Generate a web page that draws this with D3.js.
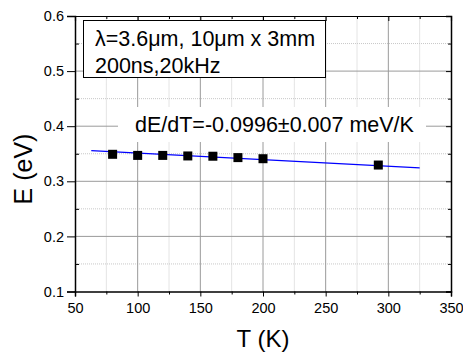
<!DOCTYPE html>
<html>
<head>
<meta charset="utf-8">
<script src="https://cdn.jsdelivr.net/npm/d3@7"></script>
<style>
  body { margin: 0; background: #fff; }
  svg { display: block; font-family: "Liberation Sans", Arial, sans-serif; }
</style>
</head>
<body>
<div id="chart"></div>
<script>
// measured points
var temps = [80, 100, 120, 140, 160, 180, 200, 292];
var energies = [0.349, 0.347, 0.347, 0.346, 0.3455, 0.343, 0.341, 0.3295];

// linear fit line end points
var fitT = [63, 325];
var fitE = [0.3555, 0.3242];

var xTicks = [50, 100, 150, 200, 250, 300, 350];
var yTicks = [0.1, 0.2, 0.3, 0.4, 0.5, 0.6];
var xMinor = [75, 125, 175, 225, 275, 325];
var yMinor = [0.15, 0.25, 0.35, 0.45, 0.55];

var legendLines = ["\u03bb=3.6\u03bcm, 10\u03bcm x 3mm", "200ns,20kHz"];
var slopeText = "dE/dT=-0.0996\u00b10.007 meV/K";

function drawChart() {
    var width = 463;
    var height = 353;
    var margin = ({ top: 16, right: 12, bottom: 61.5, left: 75 });

    var x = d3.scaleLinear()
        .domain([50, 350])
        .range([margin.left, width - margin.right]);

    var y = d3.scaleLinear()
        .domain([0.1, 0.6])
        .range([height - margin.bottom, margin.top]);

    const svg = d3.select("#chart").append("svg")
        .attr("width", width)
        .attr("height", height);

    // minor grid (dotted)
    svg.append("g")
        .attr("stroke", "#c8c8c8")
        .attr("stroke-dasharray", "1,1")
        .call(g => g.selectAll("line.vx")
            .data(xMinor)
            .join("line")
            .attr("class", "vx")
            .attr("x1", d => x(d)).attr("x2", d => x(d))
            .attr("y1", y(0.1)).attr("y2", y(0.6)))
        .call(g => g.selectAll("line.hy")
            .data(yMinor)
            .join("line")
            .attr("class", "hy")
            .attr("x1", x(50)).attr("x2", x(350))
            .attr("y1", d => y(d)).attr("y2", d => y(d)));

    // major grid
    svg.append("g")
        .attr("stroke", "#9a9a9a")
        .call(g => g.selectAll("line.vx")
            .data(xTicks.slice(1, -1))
            .join("line")
            .attr("class", "vx")
            .attr("x1", d => x(d)).attr("x2", d => x(d))
            .attr("y1", y(0.1)).attr("y2", y(0.6)))
        .call(g => g.selectAll("line.hy")
            .data(yTicks.slice(1, -1))
            .join("line")
            .attr("class", "hy")
            .attr("x1", x(50)).attr("x2", x(350))
            .attr("y1", d => y(d)).attr("y2", d => y(d)));

    // white label behind slope text
    svg.append("rect")
        .attr("x", 118)
        .attr("y", 107)
        .attr("width", 308)
        .attr("height", 35)
        .attr("fill", "white");

    svg.append("text")
        .attr("x", 135)
        .attr("y", 131.5)
        .attr("font-size", 21.5)
        .text(slopeText);

    // fit line
    svg.append("line")
        .attr("x1", x(fitT[0])).attr("y1", y(fitE[0]))
        .attr("x2", x(fitT[1])).attr("y2", y(fitE[1]))
        .attr("stroke", "#0000ff")
        .attr("stroke-width", 1.2);

    // data squares
    svg.append("g")
        .selectAll("rect")
        .data(temps)
        .join("rect")
        .attr("x", (d, i) => x(d) - 4.5)
        .attr("y", (d, i) => y(energies[i]) - 4.5)
        .attr("width", 9)
        .attr("height", 9)
        .attr("fill", "black");

    // axes
    svg.append("g")
        .attr("transform", `translate(0,${y(0.1)})`)
        .call(d3.axisBottom(x).tickValues(xTicks).tickSize(5).tickPadding(6).tickFormat(d3.format("d")))
        .call(g => g.selectAll("text").attr("font-size", 14.5).attr("fill", "#000").attr("font-family", null))
        .call(g => g.select(".domain").attr("stroke-width", 1.5));

    svg.append("g")
        .attr("transform", `translate(0,${y(0.1)})`)
        .call(d3.axisBottom(x).tickValues(xMinor).tickSize(3).tickFormat(""))
        .call(g => g.select(".domain").remove());

    svg.append("g")
        .attr("transform", `translate(${x(50)},0)`)
        .call(d3.axisLeft(y).tickValues(yTicks).tickSize(8).tickPadding(3).tickFormat(d3.format(".1f")))
        .call(g => g.selectAll("text").attr("font-size", 14.5).attr("fill", "#000").attr("font-family", null))
        .call(g => g.select(".domain").attr("stroke-width", 1.5));

    svg.append("g")
        .attr("transform", `translate(${x(50)},0)`)
        .call(d3.axisRight(y).tickValues(yMinor).tickSize(4).tickFormat(""))
        .call(g => g.select(".domain").remove());

    svg.append("g")
        .attr("transform", `translate(0,${y(0.6)})`)
        .call(d3.axisBottom(x).tickValues(xTicks).tickSize(5).tickFormat(""))
        .call(g => g.select(".domain").attr("stroke-width", 1.2));

    svg.append("g")
        .attr("transform", `translate(0,${y(0.6)})`)
        .call(d3.axisBottom(x).tickValues(xMinor).tickSize(3).tickFormat(""))
        .call(g => g.select(".domain").remove());

    svg.append("g")
        .attr("transform", `translate(${x(350)},0)`)
        .call(d3.axisLeft(y).tickValues(yTicks).tickSize(5).tickFormat(""))
        .call(g => g.select(".domain").attr("stroke-width", 1.5));

    svg.append("g")
        .attr("transform", `translate(${x(350)},0)`)
        .call(d3.axisLeft(y).tickValues(yMinor).tickSize(3).tickFormat(""))
        .call(g => g.select(".domain").remove());

    // legend box
    svg.append("rect")
        .attr("x", 83.5)
        .attr("y", 20.5)
        .attr("width", 242)
        .attr("height", 57)
        .attr("fill", "white")
        .attr("stroke", "black")
        .attr("stroke-width", 1);

    svg.append("g")
        .attr("font-size", 21.5)
        .selectAll("text")
        .data(legendLines)
        .join("text")
        .attr("x", 95)
        .attr("y", (d, i) => 46 + i * 27.3)
        .text(d => d);

    // axis titles
    svg.append("text")
        .attr("x", 263)
        .attr("y", 347)
        .attr("text-anchor", "middle")
        .attr("font-size", 24)
        .text("T (K)");

    svg.append("text")
        .attr("transform", `translate(32,169) rotate(-90)`)
        .attr("text-anchor", "middle")
        .attr("font-size", 25)
        .text("E (eV)");
}

drawChart();
</script>
</body>
</html>
